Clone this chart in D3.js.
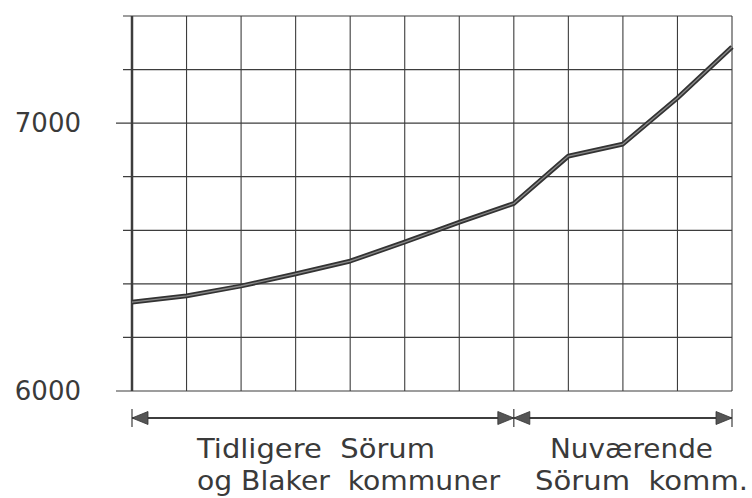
<!DOCTYPE html>
<html>
<head>
<meta charset="utf-8">
<script src="https://cdn.jsdelivr.net/npm/d3@7"></script>
<style>
  html, body { margin: 0; padding: 0; background: #fff; }
  svg { display: block; }
  text { font-family: "DejaVu Sans", sans-serif; fill: #3a3a3a; white-space: pre; }
</style>
</head>
<body>
<svg id="chart" width="752" height="498"></svg>
<script>

// steps along the x axis (one per vertical grid line)
var steps = [0, 1, 2, 3, 4, 5, 6, 7, 8, 9, 10, 11];
// population
var population = [6332, 6355, 6392, 6437, 6485, 6556, 6630, 6700, 6877, 6922, 7094, 7284];
// horizontal grid lines
var gridValues = [6000, 6200, 6400, 6600, 6800, 7000, 7200, 7400];
var labelValues = [6000, 7000];
// periods under the chart: [first step, last step]
var periods = [[0, 7], [7, 11]];
var periodLines = [
	["Tidligere  Sörum", "og Blaker  kommuner"],
	["Nuværende", "Sörum  komm."]
];

var svg = d3.select("#chart");

var x = d3.scaleLinear().domain([0, 11]).range([132, 732]);
var y = d3.scaleLinear().domain([6000, 7400]).range([391, 16]);

var ink = "#3d3d3d";

// vertical grid
svg.selectAll("line.vgrid")
	.data(steps)
	.enter()
	.append("line")
	.attr("class", "vgrid")
	.attr("x1", d => x(d)).attr("x2", d => x(d))
	.attr("y1", y(7400)).attr("y2", y(6000))
	.style("stroke", ink)
	.style("stroke-width", d => d == 0 ? 2.5 : 1.1);

// horizontal grid + left ticks
svg.selectAll("line.hgrid")
	.data(gridValues)
	.enter()
	.append("line")
	.attr("class", "hgrid")
	.attr("x1", d => (d % 1000 == 0 ? x(0) - 16 : x(0) - 9))
	.attr("x2", x(11))
	.attr("y1", d => y(d)).attr("y2", d => y(d))
	.style("stroke", ink)
	.style("stroke-width", 1.2);

svg.selectAll("text.ylab")
	.data(labelValues)
	.enter()
	.append("text")
	.attr("class", "ylab")
	.attr("x", 81)
	.attr("y", d => y(d) + 9)
	.attr("text-anchor", "end")
	.style("font-size", "26px")
	.text(d => d);

// the curve: dark outline with a lighter core
var line = d3.line()
	.x((d, i) => x(steps[i]))
	.y(d => y(d));

svg.append("path")
	.datum(population)
	.attr("d", line)
	.style("fill", "none")
	.style("stroke", "#333")
	.style("stroke-width", 4.8)
	.style("stroke-linejoin", "round");

svg.append("path")
	.datum(population)
	.attr("d", line)
	.style("fill", "none")
	.style("stroke", "#8a8a8a")
	.style("stroke-width", 1.3)
	.style("stroke-linejoin", "round");

// period arrows
var arrowY = 418;
var head = 16, half = 6.5;

periods.forEach(function(p, i){
	var a = x(p[0]), b = x(p[1]);
	svg.append("line")
		.attr("x1", a).attr("x2", b)
		.attr("y1", arrowY).attr("y2", arrowY)
		.style("stroke", ink)
		.style("stroke-width", 2);
	svg.append("path")
		.attr("d", "M" + a + "," + arrowY + "L" + (a + head) + "," + (arrowY - half) + "L" + (a + head) + "," + (arrowY + half) + "Z")
		.style("fill", "#555").style("stroke", "#333").style("stroke-width", 0.8);
	svg.append("path")
		.attr("d", "M" + b + "," + arrowY + "L" + (b - head) + "," + (arrowY - half) + "L" + (b - head) + "," + (arrowY + half) + "Z")
		.style("fill", "#555").style("stroke", "#333").style("stroke-width", 0.8);
});

// end and divider marks
svg.selectAll("line.mark")
	.data([0, 7, 11])
	.enter()
	.append("line")
	.attr("class", "mark")
	.attr("x1", d => x(d)).attr("x2", d => x(d))
	.attr("y1", arrowY - 9).attr("y2", arrowY + 9)
	.style("stroke", ink)
	.style("stroke-width", 1.2);

// period captions
var captions = [
	{ lines: periodLines[0], x: [197, 197], w: [238, 303] },
	{ lines: periodLines[1], x: [550, 535], w: [163, 213] }
];
captions.forEach(function(c){
	c.lines.forEach(function(t, j){
		svg.append("text")
			.attr("x", c.x[j])
			.attr("y", j == 0 ? 458 : 490)
			.attr("textLength", c.w[j])
			.attr("lengthAdjust", "spacingAndGlyphs")
			.style("font-size", "27px")
			.text(t);
	});
});

</script>
</body>
</html>
